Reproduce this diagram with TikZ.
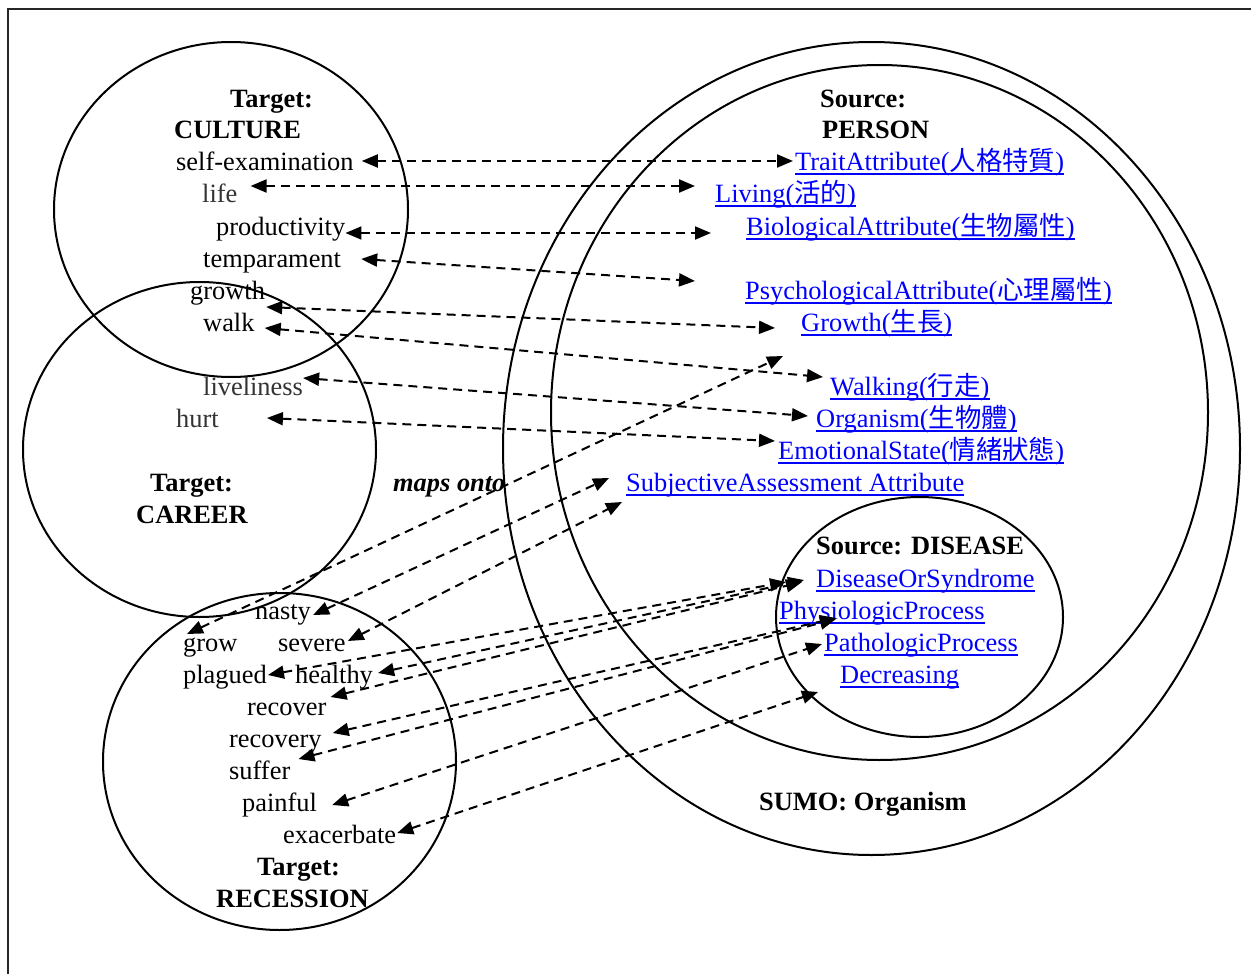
\documentclass[tikz,border=0pt]{standalone}
\usepackage{fontspec}
\setmainfont{Liberation Serif}
\newfontfamily\cjk{Noto Sans CJK TC}
\usetikzlibrary{arrows.meta,calc}
\definecolor{linkblue}{RGB}{0,0,255}
\begin{document}
\begin{tikzpicture}[x=1pt,y=-1pt,
  every node/.style={font=\fontsize{26.4}{30}\selectfont, inner sep=0pt, text height=17pt, text depth=1pt, anchor=west},
  dim/.style={text=black!80},
  hd/.style={font=\fontsize{26.4}{30}\selectfont\bfseries},
  lnk/.style={text=linkblue},
  ring/.style={line width=2pt},
  frameline/.style={line width=2.2pt, black!85},
  maparrow/.style={line width=2pt, dash pattern=on 9pt off 6pt,
    {Triangle[length=16pt,width=13pt]}-{Triangle[length=16pt,width=13pt]}},
  ul/.style={linkblue, line width=1.6pt}]
\useasboundingbox (0,0) rectangle (1251,974);
\draw[frameline] (8,974) -- (8,9) -- (1251,9);

% containers
\draw[ring] (231,209.5) ellipse [x radius=177, y radius=167.5];
\draw[ring] (199.5,449.5) ellipse [x radius=176.5, y radius=167.5];
\draw[ring] (279.5,761.5) ellipse [x radius=176.5, y radius=168.5];
\draw[ring] (871.5,448.5) ellipse [x radius=368.5, y radius=406.5];
\draw[ring] (879.5,412.5) ellipse [x radius=328.5, y radius=347.5];
\draw[ring] (919.5,617) ellipse [x radius=143.5, y radius=120];

% headings
\node[hd] (tcult) at (230,99) {Target:};
\node[hd] (cult) at (174,131) {CULTURE};
\node[hd] (tcar) at (150,483) {Target:};
\node[hd] (car) at (136,515) {CAREER};
\node[hd] (trec) at (257,867) {Target:};
\node[hd] (rec) at (216,899) {RECESSION};
\node[hd] (spers) at (820,99) {Source:};
\node[hd] (pers) at (822,131) {PERSON};
\node[hd] (sdis) at (816,546) {Source: DISEASE};
\node[hd] (sumo) at (759,802) {SUMO: Organism};
\node[font=\fontsize{26.4}{30}\selectfont\bfseries\itshape] (maps) at (393,483) {maps onto};

% target words
\node (selfex) at (176,162) {self-examination};
\node[dim] (life) at (202,194) {life};
\node (prod) at (216,227) {productivity};
\node (temp) at (203,259) {temparament};
\node (growth) at (190,291) {growth};
\node (walk) at (203,323) {walk};
\node[dim] (live) at (203,387) {liveliness};
\node[dim] (hurt) at (176,419) {hurt};
\node (nasty) at (255,611) {nasty};
\node (grow) at (183,643) {grow};
\node (severe) at (278,643) {severe};
\node (plagued) at (183,675) {plagued};
\node (healthy) at (295,675) {healthy};
\node (recover) at (247,707) {recover};
\node (recovery) at (229,739) {recovery};
\node (suffer) at (229,771) {suffer};
\node (painful) at (242,803) {painful};
\node (exac) at (283,835) {exacerbate};

% source concepts
\node[lnk] (trait) at (795,162) {TraitAttribute({\cjk 人格特質})};
\node[lnk] (living) at (715,194) {Living({\cjk 活的})};
\node[lnk] (bio) at (746,227) {BiologicalAttribute({\cjk 生物屬性})};
\node[lnk] (psych) at (745,291) {PsychologicalAttribute({\cjk 心理屬性})};
\node[lnk] (growthc) at (801,323) {Growth({\cjk 生長})};
\node[lnk] (walking) at (830,387) {Walking({\cjk 行走})};
\node[lnk] (organism) at (816,419) {Organism({\cjk 生物體})};
\node[lnk] (emo) at (778,451) {EmotionalState({\cjk 情緒狀態})};
\node[lnk] (subj) at (626,483) {SubjectiveAssessment Attribute};
\node[lnk] (dos) at (816,579) {DiseaseOrSyndrome};
\node[lnk] (physio) at (779,611) {PhysiologicProcess};
\node[lnk] (patho) at (824,643) {PathologicProcess};
\node[lnk] (decr) at (840,675) {Decreasing};

\foreach \n in {trait,living,bio,psych,growthc,walking,organism,emo,subj,dos,physio,patho,decr}
  \draw[ul] ($(\n.base west)+(0,4)$) -- ($(\n.base east)+(0,4)$);

% mappings
\draw[maparrow] ($(selfex.east)+(8,-1)$) -- ($(trait.west)+(-2,-1)$);
\draw[maparrow] ($(life.east)+(13,-8)$) -- ($(living.west)+(-20,-8)$);
\draw[maparrow] ($(prod.east)+(0,6)$) -- ($(bio.west)+(-35,6)$);
\draw[maparrow] ($(temp.east)+(20,0)$) -- ($(psych.west)+(-50,-10)$);
\draw[maparrow] ($(growth.east)+(1,16)$) -- ($(growthc.west)+(-26,5)$);
\draw[maparrow] ($(walk.east)+(10,5)$) -- ($(walking.west)+(-7,-10)$);
\draw[maparrow] ($(live.east)+(0,-9)$) -- ($(organism.west)+(-8,-3)$);
\draw[maparrow] ($(hurt.east)+(48,-1)$) -- ($(emo.west)+(-3,-10)$);
\draw[maparrow] ($(grow.west)+(4,-9)$) -- ($(growthc.west)+(-18,33)$);
\draw[maparrow] ($(nasty.east)+(2,4)$) -- ($(subj.west)+(-17,-5)$);
\draw[maparrow] ($(severe.east)+(2,-2)$) -- ($(subj.west)+(-4,19)$);
\draw[maparrow] ($(plagued.east)+(1,0)$) -- ($(dos.west)+(-30,3)$);
\draw[maparrow] ($(healthy.east)+(5,-2)$) -- ($(dos.west)+(-12,1)$);
\draw[maparrow] ($(recover.east)+(4,-10)$) -- ($(dos.west)+(-14,3)$);
\draw[maparrow] ($(recovery.east)+(11,-6)$) -- ($(physio.west)+(57,7)$);
\draw[maparrow] ($(suffer.east)+(8,-12)$) -- ($(physio.west)+(57,8)$);
\draw[maparrow] ($(painful.east)+(15,2)$) -- ($(patho.west)+(-2,1)$);
\draw[maparrow] ($(exac.east)+(1,-2)$) -- ($(decr.west)+(-22,17)$);
\end{tikzpicture}
\end{document}
